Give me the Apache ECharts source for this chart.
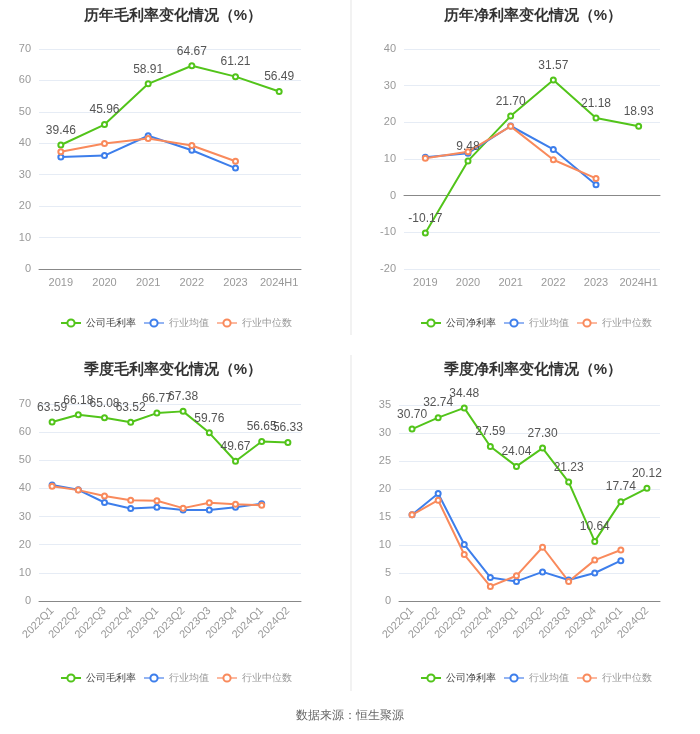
<!DOCTYPE html>
<html>
<head>
<meta charset="utf-8">
<script src="https://cdn.jsdelivr.net/npm/echarts@6/dist/echarts.min.js"></script>
<style>
  html, body { margin: 0; padding: 0; background: #fff; }
  #main { width: 700px; height: 734px; }
</style>
</head>
<body>
<div id="main"></div>
<script>
// 年度
const yearCats = ['2019', '2020', '2021', '2022', '2023', '2024H1']
const yearGross = [39.46, 45.96, 58.91, 64.67, 61.21, 56.49]
const yearGrossAvg = [35.6, 36.1, 42.4, 37.8, 32.1]
const yearGrossMid = [37.3, 39.9, 41.5, 39.3, 34.3]
const yearNet = [-10.17, 9.48, 21.70, 31.57, 21.18, 18.93]
const yearNetAvg = [10.5, 11.6, 19.0, 12.6, 3.0]
const yearNetMid = [10.2, 12.0, 18.9, 9.8, 4.7]

// 季度
const quarterCats = ['2022Q1', '2022Q2', '2022Q3', '2022Q4', '2023Q1', '2023Q2', '2023Q3', '2023Q4', '2024Q1', '2024Q2']
const qGross = [63.59, 66.18, 65.08, 63.52, 66.77, 67.38, 59.76, 49.67, 56.65, 56.33]
const qGrossAvg = [41.2, 39.5, 35.0, 32.9, 33.3, 32.3, 32.3, 33.3, 34.6]
const qGrossMid = [40.8, 39.4, 37.3, 35.8, 35.6, 33.0, 34.9, 34.4, 34.0]
const qNet = [30.70, 32.74, 34.48, 27.59, 24.04, 27.30, 21.23, 10.64, 17.74, 20.12]
const qNetAvg = [15.4, 19.2, 10.1, 4.2, 3.5, 5.2, 3.75, 5.0, 7.2]
const qNetMid = [15.4, 18.0, 8.3, 2.6, 4.5, 9.6, 3.5, 7.3, 9.1]

const GREEN = '#52c41a'
const BLUE = '#3d7eeb'
const ORANGE = '#f98a5c'

const chart = echarts.init(document.getElementById('main'))

// 4个网格
const grids = [
  { left: 39, right: 399, top: 49, bottom: 465 },
  { left: 404, right: 40, top: 49, bottom: 465 },
  { left: 39, right: 399, top: 404, bottom: 133 },
  { left: 399, right: 40, top: 405, bottom: 133 }
]

const titles = [
  { text: '历年毛利率变化情况（%）', left: 168, top: 3 },
  { text: '历年净利率变化情况（%）', left: 528, top: 3 },
  { text: '季度毛利率变化情况（%）', left: 168, top: 357 },
  { text: '季度净利率变化情况（%）', left: 528, top: 357 }
].map(t => ({
  ...t,
  textAlign: 'center',
  textStyle: { fontSize: 15, fontWeight: 'bold', color: '#333' }
}))

const legendData = (first) => [
  { name: first, textStyle: { color: '#444' } },
  { name: '行业均值', textStyle: { color: '#999' }, itemStyle: { borderColor: '#93b4f3' }, lineStyle: { color: '#93b4f3' } },
  { name: '行业中位数', textStyle: { color: '#999' }, itemStyle: { borderColor: '#fcb9a0' }, lineStyle: { color: '#fcb9a0' } }
]

const legends = [
  { left: 55, top: 313, data: legendData('公司毛利率') },
  { left: 415, top: 313, data: legendData('公司净利率') },
  { left: 55, top: 668, data: legendData('公司毛利率') },
  { left: 415, top: 668, data: legendData('公司净利率') }
].map(l => ({ ...l, itemWidth: 20, itemHeight: 9, itemGap: 7, textStyle: { fontSize: 10 } }))

const axisLabel = { color: '#999', fontSize: 11, interval: 0 }
const splitLine = { lineStyle: { color: '#e6ecf5' } }

const xAxis = [
  { gridIndex: 0, type: 'category', data: yearCats, axisLabel,
    axisLine: { lineStyle: { color: '#888' } }, axisTick: { alignWithLabel: true, lineStyle: { color: '#888' } } },
  { gridIndex: 1, type: 'category', data: yearCats, axisLabel: { show: false },
    axisLine: { onZero: true, lineStyle: { color: '#888' } }, axisTick: { alignWithLabel: true, lineStyle: { color: '#888' } } },
  { gridIndex: 2, type: 'category', data: quarterCats, axisLabel: { ...axisLabel, rotate: 45 },
    axisLine: { lineStyle: { color: '#888' } }, axisTick: { alignWithLabel: true, lineStyle: { color: '#888' } } },
  { gridIndex: 3, type: 'category', data: quarterCats, axisLabel: { ...axisLabel, rotate: 45 },
    axisLine: { lineStyle: { color: '#888' } }, axisTick: { alignWithLabel: true, lineStyle: { color: '#888' } } },
  // 净利率图底部标签
  { gridIndex: 1, type: 'category', data: yearCats, position: 'bottom', axisLabel,
    axisLine: { show: false, onZero: false }, axisTick: { show: false } }
]

const yAxis = [
  { gridIndex: 0, min: 0, max: 70, interval: 10 },
  { gridIndex: 1, min: -20, max: 40, interval: 10 },
  { gridIndex: 2, min: 0, max: 70, interval: 10 },
  { gridIndex: 3, min: 0, max: 35, interval: 5 }
].map(y => ({ ...y, type: 'value', axisLabel, splitLine, axisLine: { show: false }, axisTick: { show: false } }))

function makeSeries(idx, first, main, avg, mid) {
  const base = { type: 'line', xAxisIndex: idx, yAxisIndex: idx, symbol: 'emptyCircle', symbolSize: 5,
    lineStyle: { width: 2 }, emphasis: { disabled: true } }
  return [
    { ...base, name: first, data: main, itemStyle: { color: GREEN },
      label: { show: true, position: 'top', color: '#555', fontSize: 12, formatter: p => p.value.toFixed(2) }, z: 3 },
    { ...base, name: '行业均值', data: avg, itemStyle: { color: BLUE } },
    { ...base, name: '行业中位数', data: mid, itemStyle: { color: ORANGE } }
  ]
}

const option = {
  animation: false,
  title: titles,
  legend: legends,
  grid: grids,
  xAxis,
  yAxis,
  series: [
    ...makeSeries(0, '公司毛利率', yearGross, yearGrossAvg, yearGrossMid),
    ...makeSeries(1, '公司净利率', yearNet, yearNetAvg, yearNetMid),
    ...makeSeries(2, '公司毛利率', qGross, qGrossAvg, qGrossMid),
    ...makeSeries(3, '公司净利率', qNet, qNetAvg, qNetMid)
  ],
  graphic: [
    { type: 'line', shape: { x1: 351, y1: 0, x2: 351, y2: 335 }, style: { stroke: '#f2f2f2', lineWidth: 2 } },
    { type: 'line', shape: { x1: 351, y1: 355, x2: 351, y2: 691 }, style: { stroke: '#f2f2f2', lineWidth: 2 } },
    { type: 'text', left: 'center', top: 710, style: { text: '数据来源：恒生聚源', fill: '#666', fontSize: 12 } }
  ]
}

option && chart.setOption(option)
</script>
</body>
</html>
